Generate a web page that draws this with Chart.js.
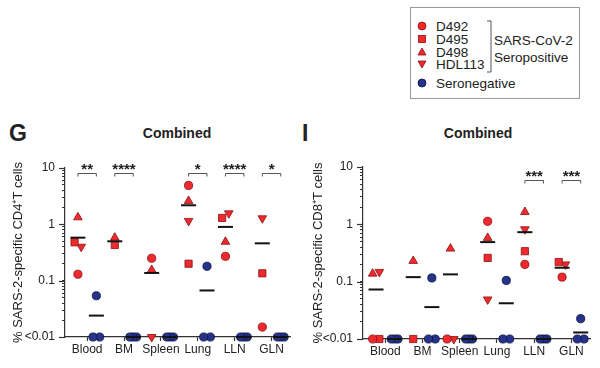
<!DOCTYPE html>
<html>
<head>
<meta charset="utf-8">
<script src="https://cdn.jsdelivr.net/npm/chart.js@4.4.0/dist/chart.umd.min.js"></script>
<style>
  body { margin: 0; width: 600px; height: 368px; position: relative; overflow: hidden; background: #fff;
         font-family: Arial, "Liberation Sans", sans-serif; color: #222; }
  canvas { position: absolute; }
  .txt { position: absolute; white-space: nowrap; }
  .letter { font-weight: bold; font-size: 23px; line-height: 23px; top: 122px; }
  .title { font-weight: bold; font-size: 14px; line-height: 14px; top: 126px; transform: translateX(-50%); }
  #legend { position: absolute; left: 410px; top: 7px; width: 168px; height: 90px; border: 1px solid #9a9a9a; }
  #legend .row { position: absolute; left: 25px; font-size: 13.5px; line-height: 13px; transform: translateY(-50%); }
  #legend svg { position: absolute; }
</style>
</head>
<body>

<div id="legend">
  <svg width="168" height="90" style="left:0;top:0">
    <circle cx="11" cy="18" r="4" fill="#ee2a2f" stroke="#8a1010" stroke-width="0.8"/>
    <rect x="7.5" y="27.5" width="7" height="7" fill="#ee2a2f" stroke="#8a1010" stroke-width="0.8"/>
    <polygon points="11,40 15,47 7,47" fill="#ee2a2f" stroke="#8a1010" stroke-width="0.8"/>
    <polygon points="11,60 15,53 7,53" fill="#ee2a2f" stroke="#8a1010" stroke-width="0.8"/>
    <circle cx="11" cy="75" r="4" fill="#25338a" stroke="#0b1240" stroke-width="0.8"/>
    <path d="M76 13 H80 V64 H76" fill="none" stroke="#555" stroke-width="1"/>
  </svg>
  <div class="row" style="top:18px">D492</div>
  <div class="row" style="top:31px">D495</div>
  <div class="row" style="top:44px">D498</div>
  <div class="row" style="top:56px">HDL113</div>
  <div class="row" style="top:32px;left:83px">SARS-CoV-2</div>
  <div class="row" style="top:49px;left:83px">Seropositive</div>
  <div class="row" style="top:75px">Seronegative</div>
</div>

<div class="txt letter" style="left:9px">G</div>
<div class="txt title" style="left:177px">Combined</div>
<div class="txt letter" style="left:302px">I</div>
<div class="txt title" style="left:478px">Combined</div>

<canvas id="cd4" width="300" height="268" style="left:0;top:100px"></canvas>
<canvas id="cd8" width="300" height="268" style="left:300px;top:100px"></canvas>

<script>
const categories = ['Blood', 'BM', 'Spleen', 'Lung', 'LLN', 'GLN'];
const majorTicks = [0.01, 0.1, 1, 10];
const majorLabels = ['<0.01', '0.1', '1', '10'];

// Panel G: CD4+ T cells, seropositive donors (null = not visible)
const cd4D492 = [0.13, null, 0.25, 4.9, 0.27, 0.015];
const cd4D495 = [0.48, 0.43, null, 0.2, 1.3, 0.135];
const cd4D498 = [1.33, 0.58, 0.155, 2.6, 0.49, null];
const cd4HDL113 = [0.40, null, 0.01, 1.15, 1.57, 1.28];
const cd4PosMean = [0.58, 0.50, 0.137, 2.18, 0.90, 0.46];
// seronegative donors
const cd4NegA = [0.054, 0.01, 0.01, 0.18, 0.01, 0.01];
const cd4NegB = [0.01, 0.01, 0.01, 0.01, 0.01, 0.01];
const cd4NegC = [0.01, 0.01, 0.01, 0.01, 0.01, 0.01];
const cd4NegMean = [0.024, 0.01, 0.01, 0.067, 0.01, 0.01];
const cd4Stars = ['**', '****', '', '*', '****', '*'];

// Panel I: CD8+ T cells
const cd8D492 = [0.01, null, 0.01, 1.13, 0.2, 0.12];
const cd8D495 = [0.01, 0.01, null, 0.26, 0.34, 0.22];
const cd8D498 = [0.138, 0.23, 0.377, 0.58, 1.64, null];
const cd8HDL113 = [0.148, null, 0.01, 0.049, 0.82, 0.2];
const cd8PosMean = [0.073, 0.12, 0.134, 0.49, 0.73, 0.175];
const cd8NegA = [0.01, 0.116, 0.01, 0.105, 0.01, 0.0226];
const cd8NegB = [0.01, 0.01, 0.01, 0.01, 0.01, 0.01];
const cd8NegC = [0.01, 0.01, 0.01, 0.01, 0.01, 0.01];
const cd8NegMean = [0.01, 0.036, 0.01, 0.042, 0.01, 0.013];
const cd8Stars = ['', '', '', '', '***', '***'];

const RED = '#ee2a2f', RED_EDGE = '#8a1010';
const BLUE = '#25338a', BLUE_EDGE = '#0b1240';
const INK = '#333';

Chart.defaults.font.family = 'Arial, "Liberation Sans", sans-serif';

// minor ticks 2..9 inside every decade
const yTickValues = [];
majorTicks.forEach((m, k) => {
  yTickValues.push(m);
  if (k < majorTicks.length - 1) for (let j = 2; j <= 9; j++) yTickValues.push(+(m * j).toPrecision(3));
});

// spread points of one column sideways when they would overlap (like a scatter dot plot)
function dodge(seriesList, i, span) {
  const pts = [];
  seriesList.forEach((s, k) => { if (s[i] != null) pts.push({ k, lv: Math.log10(s[i]), off: 0 }); });
  const seen = new Set();
  pts.forEach(p => {
    if (seen.has(p)) return;
    const group = [p];
    seen.add(p);
    for (let g = 0; g < group.length; g++) {
      pts.forEach(q => {
        if (!seen.has(q) && Math.abs(q.lv - group[g].lv) < 0.1) { seen.add(q); group.push(q); }
      });
    }
    group.sort((a, b) => a.k - b.k);
    const n = group.length;
    group.forEach((q, j) => { q.off = n > 1 ? (j / (n - 1) - 0.5) * span : 0; });
  });
  const offs = seriesList.map(() => 0);
  pts.forEach(p => { offs[p.k] = p.off; });
  return offs;
}

function columnData(seriesList, side) {
  const out = seriesList.map(() => []);
  categories.forEach((c, i) => {
    const offs = dodge(seriesList, i, 0.36);
    seriesList.forEach((s, k) => {
      if (s[i] != null) out[k].push({ x: 2 * i + side + offs[k], y: s[i] });
    });
  });
  return out;
}

function meanData(means, side) {
  return means.map((m, i) => ({ x: 2 * i + side, y: m }));
}

const extrasPlugin = {
  id: 'extras',
  afterDraw(chart, args, opts) {
    const { ctx, chartArea, scales: { x, y } } = chart;
    ctx.save();
    ctx.strokeStyle = INK;
    ctx.lineWidth = 1.2;
    majorTicks.forEach(v => {
      const py = Math.round(y.getPixelForValue(v)) + 0.5;
      ctx.beginPath();
      ctx.moveTo(chartArea.left - 6, py);
      ctx.lineTo(chartArea.left, py);
      ctx.stroke();
    });
    const by = Math.round(y.getPixelForValue(opts.level)) + 0.5;
    ctx.strokeStyle = '#555';
    ctx.lineWidth = 1;
    ctx.fillStyle = '#222';
    ctx.font = 'bold 15px Arial, "Liberation Sans", sans-serif';
    ctx.textAlign = 'center';
    ctx.textBaseline = 'alphabetic';
    opts.stars.forEach((s, i) => {
      if (!s) return;
      const x0 = x.getPixelForValue(2 * i), x1 = x.getPixelForValue(2 * i + 1);
      ctx.beginPath();
      ctx.moveTo(x0, by + 3);
      ctx.lineTo(x0, by);
      ctx.lineTo(x1, by);
      ctx.lineTo(x1, by + 3);
      ctx.stroke();
      ctx.fillText(s, (x0 + x1) / 2, by);
    });
    ctx.restore();
  }
};

function makePanel(id, p) {
  const pos = columnData([p.d492, p.d495, p.d498, p.hdl113], 0);
  const neg = columnData([p.negA, p.negB, p.negC], 1);
  const marker = (label, data, style, rotation, radius, fill, edge) => ({
    label, data, pointStyle: style, pointRotation: rotation, pointRadius: radius,
    pointBackgroundColor: fill, pointBorderColor: edge, pointBorderWidth: 0.8,
    showLine: false, clip: false
  });
  const meanSet = (label, data) => ({
    label, data, pointStyle: 'line', pointRadius: 7.5, pointBorderWidth: 2,
    pointBorderColor: '#111', showLine: false, clip: false
  });
  new Chart(document.getElementById(id), {
    type: 'scatter',
    data: {
      datasets: [
        meanSet('Seropositive mean', meanData(p.posMean, 0)),
        meanSet('Seronegative mean', meanData(p.negMean, 1)),
        marker('D492', pos[0], 'circle', 0, 4.1, RED, RED_EDGE),
        marker('D495', pos[1], 'rect', 0, 5.1, RED, RED_EDGE),
        marker('D498', pos[2], 'triangle', 0, 5, RED, RED_EDGE),
        marker('HDL113', pos[3], 'triangle', 180, 5, RED, RED_EDGE),
        marker('Seronegative', neg[0], 'circle', 0, 4.1, BLUE, BLUE_EDGE),
        marker('Seronegative', neg[1], 'circle', 0, 4.1, BLUE, BLUE_EDGE),
        marker('Seronegative', neg[2], 'circle', 0, 4.1, BLUE, BLUE_EDGE)
      ]
    },
    options: {
      responsive: false,
      animation: false,
      events: [],
      layout: { padding: { top: p.top, right: 10, left: 0, bottom: 0 } },
      plugins: {
        legend: { display: false },
        tooltip: { enabled: false },
        extras: { level: p.level, stars: p.stars }
      },
      scales: {
        x: {
          type: 'linear', min: -0.7, max: 11.5,
          afterBuildTicks: s => { s.ticks = categories.map((c, i) => ({ value: 2 * i + 0.5 })); },
          afterFit: s => { s.height = p.bottom; },
          ticks: { autoSkip: false, maxRotation: 0, padding: 1, color: '#222', font: { size: 12 },
                   callback: (v, i) => categories[i] },
          grid: { drawOnChartArea: false, tickLength: 4, color: INK, tickWidth: 1.2 },
          border: { color: INK, width: 1.2 }
        },
        y: {
          type: 'logarithmic', min: 0.01, max: 10,
          afterBuildTicks: s => { s.ticks = yTickValues.map(v => ({ value: v })); },
          afterFit: s => { s.width = p.left; },
          ticks: { autoSkip: false, padding: 7, color: '#222', font: { size: 12 },
                   callback: v => {
                     const k = majorTicks.findIndex(m => Math.abs(Math.log10(m) - Math.log10(v)) < 1e-6);
                     return k >= 0 ? majorLabels[k] : '';
                   } },
          grid: { drawOnChartArea: false, tickLength: 3, color: INK, tickWidth: 1 },
          border: { color: INK, width: 1.2 },
          title: { display: true, text: p.yTitle, color: '#222', font: { size: 13 }, padding: { top: 11, bottom: 0 } }
        }
      }
    },
    plugins: [extrasPlugin]
  });
}

makePanel('cd4', {
  d492: cd4D492, d495: cd4D495, d498: cd4D498, hdl113: cd4HDL113, posMean: cd4PosMean,
  negA: cd4NegA, negB: cd4NegB, negC: cd4NegC, negMean: cd4NegMean,
  stars: cd4Stars, level: 8, yTitle: '% SARS-2-specific CD4\u207AT cells',
  top: 68, left: 65, bottom: 31
});
makePanel('cd8', {
  d492: cd8D492, d495: cd8D495, d498: cd8D498, hdl113: cd8HDL113, posMean: cd8PosMean,
  negA: cd8NegA, negB: cd8NegB, negC: cd8NegC, negMean: cd8NegMean,
  stars: cd8Stars, level: 6, yTitle: '% SARS-2-specific CD8\u207AT cells',
  top: 67, left: 63, bottom: 29
});
</script>
</body>
</html>
